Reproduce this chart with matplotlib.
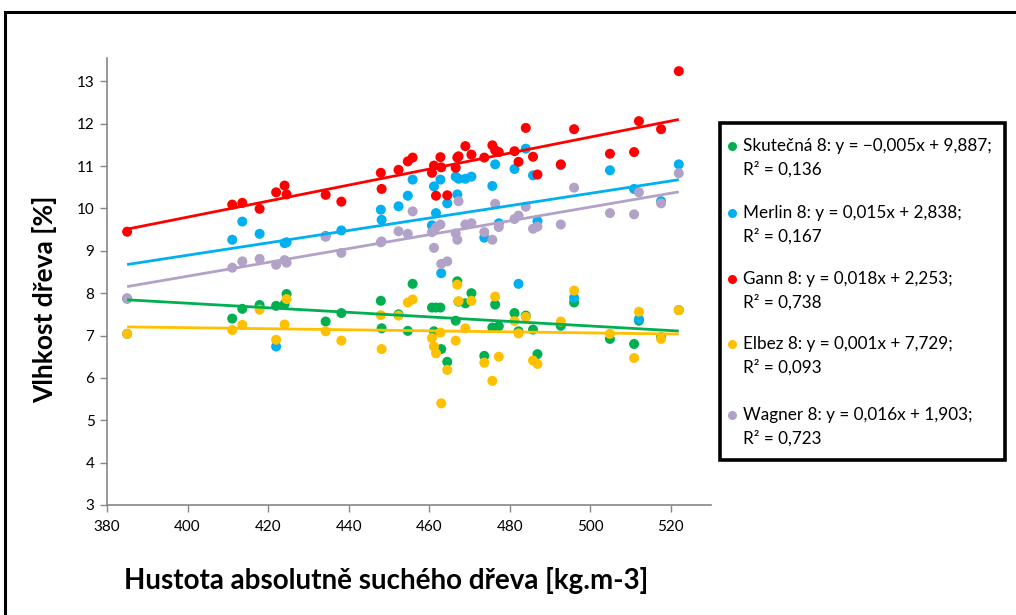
import numpy as np
import matplotlib
matplotlib.use("Agg")
import matplotlib.pyplot as plt
from matplotlib.patches import Rectangle
from matplotlib.lines import Line2D

plt.rcParams["font.family"] = ["Lato", "DejaVu Sans"]

# Dry-wood density of each sample [kg.m-3]
density = [385.0, 411.1, 413.6, 417.9, 422.0, 424.1, 424.6, 434.3, 438.2, 448.0,
           448.2, 452.4, 454.7, 455.9, 460.7, 461.2, 461.7, 462.8, 463.0, 464.5,
           466.6, 467.0, 467.3, 469.0, 470.5, 473.7, 475.7, 476.4, 477.3, 481.2,
           482.2, 484.0, 485.8, 486.9, 492.7, 496.0, 504.9, 510.9, 512.1, 517.6,
           522.0]

# Moisture content [%] measured / estimated by each method
skutecna = [7.87, 7.40, 7.63, 7.72, 7.70, 7.74, 7.98, 7.33, 7.53, 7.82,
            7.17, 7.50, 7.11, 8.22, 7.66, 7.10, 7.66, 7.66, 6.68, 6.38,
            7.35, 8.28, 7.80, 7.76, 8.00, 6.52, 7.19, 7.73, 7.22, 7.53,
            7.10, 7.47, 7.14, 6.56, 7.23, 7.78, 6.92, 6.80, 7.35, 6.96,
            7.60]
merlin = [7.04, 9.26, 9.69, 9.40, 6.74, 9.18, 9.20, 9.35, 9.48, 9.97,
          9.73, 10.05, 10.30, 10.68, 9.60, 10.52, 9.89, 10.68, 8.47, 10.12,
          10.75, 10.33, 10.70, 10.70, 10.75, 9.31, 10.53, 11.04, 9.65, 10.93,
          8.22, 11.41, 10.78, 9.70, 11.02, 7.89, 10.90, 10.46, 7.39, 10.17,
          11.04]
gann = [9.45, 10.09, 10.13, 9.99, 10.38, 10.54, 10.33, 10.32, 10.16, 10.84,
        10.46, 10.91, 11.11, 11.20, 10.84, 11.01, 10.30, 11.21, 10.97, 10.31,
        10.96, 11.20, 11.23, 11.47, 11.27, 11.20, 11.49, 11.37, 11.33, 11.35,
        11.10, 11.90, 11.22, 10.80, 11.04, 11.87, 11.29, 11.33, 12.06, 11.87,
        13.24]
elbez = [7.04, 7.13, 7.25, 7.61, 6.90, 7.26, 7.86, 7.10, 6.88, 7.48,
         6.68, 7.47, 7.78, 7.85, 6.94, 6.74, 6.58, 7.07, 5.40, 6.19,
         6.88, 8.20, 7.81, 7.17, 7.82, 6.36, 5.93, 7.92, 6.50, 7.34,
         7.05, 7.44, 6.41, 6.33, 7.33, 8.06, 7.04, 6.47, 7.56, 6.92,
         7.60]
wagner = [7.88, 8.60, 8.75, 8.81, 8.67, 8.78, 8.72, 9.33, 8.95, 9.20,
          9.22, 9.46, 9.40, 9.93, 9.44, 9.07, 9.55, 9.62, 8.69, 8.75,
          9.41, 9.26, 10.17, 9.62, 9.65, 9.44, 9.26, 10.11, 9.56, 9.75,
          9.83, 10.04, 9.52, 9.57, 9.62, 10.49, 9.89, 9.86, 10.38, 10.12,
          10.83]

series_names = ["Skutečná 8", "Merlin 8", "Gann 8", "Elbez 8", "Wagner 8"]
series_values = [skutecna, merlin, gann, elbez, wagner]
colors = ["#00B050", "#00B0F0", "#FF0000", "#FFC000", "#B3A2C7"]
legend_labels = [
    "Skutečná 8: y = \u22120,005x + 9,887;\nR\u00b2 = 0,136",
    "Merlin 8: y = 0,015x + 2,838;\nR\u00b2 = 0,167",
    "Gann 8: y = 0,018x + 2,253;\nR\u00b2 = 0,738",
    "Elbez 8: y = 0,001x + 7,729;\nR\u00b2 = 0,093",
    "Wagner 8: y = 0,016x + 1,903;\nR\u00b2 = 0,723",
]

x_ticks = [380, 400, 420, 440, 460, 480, 500, 520]
y_ticks = [3, 4, 5, 6, 7, 8, 9, 10, 11, 12, 13]

W, H = 1016, 615
fig = plt.figure(figsize=(W / 100, H / 100), dpi=100)
ax = fig.add_axes([107 / W, 1 - 505 / H, (711 - 107) / W, (505 - 58) / H])

x = np.array(density)
for vals, c in zip(series_values, colors):
    ax.scatter(x, vals, s=52, color=c, edgecolors="none", zorder=2)

# Linear trendlines over the range of the data
xs = np.array([x.min(), x.max()])
for vals, c in zip(series_values, colors):
    k, q = np.polyfit(x, np.array(vals), 1)
    ax.plot(xs, k * xs + q, color=c, lw=2.0, zorder=3, solid_capstyle="butt")

ax.set_xlim(380, 530)
ax.set_ylim(3, 13.55)
ax.set_xticks(x_ticks)
ax.set_yticks(y_ticks)
ax.set_xticklabels([str(t) for t in x_ticks])
ax.set_yticklabels([str(t) for t in y_ticks])
for side in ("top", "right"):
    ax.spines[side].set_visible(False)
for side in ("left", "bottom"):
    ax.spines[side].set_color("#868686")
    ax.spines[side].set_linewidth(1.2)
ax.tick_params(axis="both", direction="out", length=5, width=1.0, color="#868686",
               labelsize=11, labelcolor="#000000")
ax.tick_params(axis="x", pad=6)
ax.tick_params(axis="y", pad=4)

fig.text(45 / W, 1 - 299 / H, "Vlhkost dřeva [%]", rotation=90, ha="center", va="center",
         fontsize=19, fontweight="bold")
fig.text(386 / W, 1 - 580 / H, "Hustota absolutně suchého dřeva [kg.m-3]", ha="center",
         va="center", fontsize=20, fontweight="bold")

# Outer chart frame (open to the right and bottom)
fig.add_artist(Rectangle((5 / W, -0.2), 1.3, 1 - 12 / H + 0.2, transform=fig.transFigure,
                         fill=False, edgecolor="#000000", lw=2.2, clip_on=False))

# Legend box
lx0, ly0, lx1, ly1 = 720, 123, 1005, 460
fig.add_artist(Rectangle((lx0 / W, 1 - ly1 / H), (lx1 - lx0) / W, (ly1 - ly0) / H,
                         transform=fig.transFigure, fill=True, facecolor="white",
                         edgecolor="#000000", lw=2.6))
row_y = [146, 213, 279, 344, 415]
for yy, lab, c in zip(row_y, legend_labels, colors):
    fig.add_artist(Line2D([732 / W], [1 - yy / H], marker="o", markersize=6.5, color=c,
                          markeredgewidth=0, linestyle="none", transform=fig.transFigure))
    line1, line2 = lab.split("\n")
    fig.text(743 / W, 1 - yy / H, line1, ha="left", va="center", fontsize=12.3)
    fig.text(743 / W, 1 - (yy + 23) / H, line2, ha="left", va="center", fontsize=12.3)

fig.savefig("out.png", dpi=100, facecolor="white")
